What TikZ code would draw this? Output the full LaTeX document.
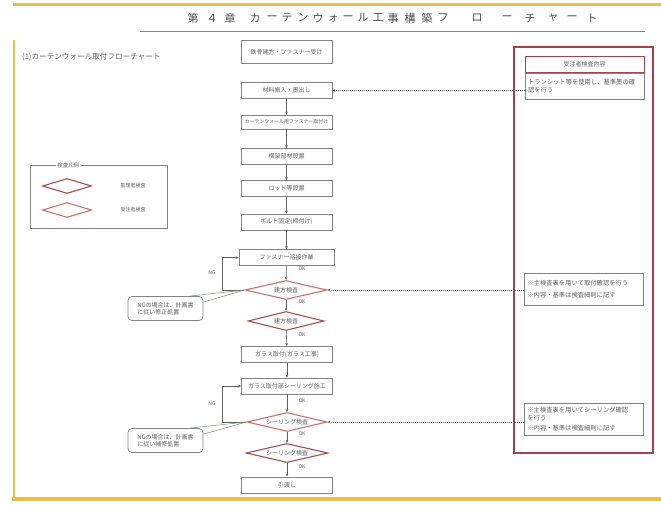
\documentclass[tikz,border=0pt]{standalone}
\usepackage{fontspec}
\setmainfont{Noto Sans CJK JP}
\usetikzlibrary{positioning,arrows.meta,shapes.geometric}
\XeTeXlinebreaklocale "ja"
\XeTeXlinebreakskip=0pt plus 1pt
\definecolor{framered}{RGB}{165,65,75}
\definecolor{kanrired}{RGB}{165,80,75}
\definecolor{jutured}{RGB}{200,115,105}
\definecolor{gold}{RGB}{232,192,70}
\definecolor{ink}{RGB}{95,95,95}
\definecolor{rulegray}{RGB}{130,130,130}
\tikzset{
  flow/.style={draw=rulegray,line width=0.8pt,minimum width=91pt,minimum height=16pt,inner sep=0pt,text=ink,font=\fontsize{6}{7}\selectfont},
  chk/.style={diamond,draw=#1,line width=1.1pt,fill=white,aspect=4,minimum width=82pt,minimum height=19pt,inner sep=0pt,text=ink,font=\fontsize{6}{7}\selectfont},
  flowarr/.style={draw=ink,line width=0.6pt,-{Stealth[length=3pt,width=2.6pt]}},
  ptrarr/.style={draw=ink,line width=0.6pt,dash pattern=on 1pt off 1pt,-{Stealth[length=3pt,width=2.6pt]}},
  oklab/.style={text=ink,font=\fontsize{5}{6}\selectfont,inner sep=1pt},
  ngnote/.style={draw=rulegray,line width=0.7pt,rounded corners=4pt,minimum width=75pt,minimum height=24pt,inner sep=2pt,align=left,text=ink,font=\fontsize{6}{7.5}\selectfont},
  ptr/.style={draw=rulegray!90!green,line width=0.5pt},
  sidebox/.style={draw=rulegray,line width=0.8pt,minimum width=119pt,inner sep=3pt,text width=113pt,align=left,text=ink,font=\fontsize{6.3}{8}\selectfont},
  legtxt/.style={text=ink,font=\fontsize{5}{6}\selectfont}
}
\begin{document}
\begin{tikzpicture}[x=1pt,y=-1pt]
\useasboundingbox (0,0) rectangle (661,507);
\fill[white] (0,0) rectangle (661,507);
% page border and heading
\draw[gold,line width=3pt] (13,4) -- (661,4);
\draw[gold,line width=2pt] (14,40) -- (14,499);
\draw[gold,line width=4pt] (12,499) -- (661,499);
\foreach \px/\ch in {193/第,212/４,230/章,255/カ,272/ー,287/テ,303/ン,318/ウ,333/ォ,348/ー,363/ル,378/工,393/事,410/構,427/築,443/フ,477/ロ,507/ー,530/チ,553/ャ,572/ー,592/ト}
  \node[text=ink!80!black,font=\fontsize{11}{12}\selectfont,inner sep=0pt] at (\px,18) {\ch};
\draw[rulegray,line width=0.6pt] (140,31) -- (645,31);
\node[anchor=west,text=ink,font=\fontsize{7.6}{9}\selectfont,inner sep=0pt] (sub) at (22,57) {(1)カーテンウォール取付フローチャート};

% flow boxes
\node[flow,minimum height=23pt] (b1) at (286.5,52) {鉄骨建方・ファスナー受け};
\node[flow] (b2) at (286.5,90.5) {材料搬入・墨出し};
\node[flow,minimum height=14pt,font=\fontsize{4.9}{6}\selectfont] (b3) at (286.5,122) {カーテンウォール用ファスナー取付け};
\node[flow] (b4) at (286.5,156.5) {横架部材設置};
\node[flow] (b5) at (286.5,188.5) {ロッド等設置};
\node[flow] (b6) at (286.5,222) {ボルト固定(締付け)};
\node[flow,minimum width=95pt] (b7) at (286.5,257.5) {ファスナー溶接作業};
\node[chk=jutured] (d1) at (286,290) {建方検査};
\node[chk=kanrired,minimum width=76pt] (d2) at (286,321) {建方検査};
\node[flow] (b8) at (287,354.5) {ガラス取付(ガラス工事)};
\node[flow] (b9) at (287,386) {ガラス取付部シーリング施工};
\node[chk=jutured,minimum width=80pt] (d3) at (287,422) {シーリング検査};
\node[chk=kanrired] (d4) at (287,453) {シーリング検査};
\node[flow] (b10) at (287,485) {引渡し};

\draw[flowarr] (b2) -- (b3);
\draw[flowarr] (b3) -- (b4);
\draw[flowarr] (b4) -- (b5);
\draw[flowarr] (b5) -- (b6);
\draw[flowarr] (b6) -- (b7);
\draw[flowarr] (b7) -- (d1);
\draw[flowarr] (d1) -- (d2);
\draw[flowarr] (d2) -- (b8);
\draw[flowarr] (b8) -- (b9);
\draw[flowarr] (b9) -- (d3);
\draw[flowarr] (d3) -- (d4);
\draw[flowarr] (d4) -- (b10);

\node[oklab] (ok1) at (302,269) {OK};
\node[oklab] (ok2) at (302,302) {OK};
\node[oklab] (ok3) at (302,335) {OK};
\node[oklab] (ok4) at (302,401) {OK};
\node[oklab] (ok5) at (302,434) {OK};
\node[oklab] (ok6) at (302,467) {OK};

% NG loops
\draw[flowarr] (d1.west) -- ++(-22,0) |- (b7.west);
\draw[flowarr] (d3.west) -- ++(-24,0) |- (b9.west);
\node[oklab] (ng1) at (212,273) {NG};
\node[oklab] (ng2) at (212,404) {NG};

% NG notes
\node[ngnote] (note1) at (165.5,308.5) {NGの場合は、計画書\\に従い修正処置};
\node[ngnote] (note2) at (165.5,440.5) {NGの場合は、計画書\\に従い補修処置};
\draw[ptr] ([xshift=-14pt]note1.north east) -- (d1.west) -- ([yshift=-6pt]note1.north east);
\draw[ptr] ([xshift=-14pt]note2.north east) -- (d3.west) -- ([yshift=-6pt]note2.north east);

% legend
\draw[rulegray,line width=0.7pt] (30,165) rectangle (167,228);
\node[fill=white,text=ink,font=\fontsize{5.5}{6}\selectfont,inner sep=1.5pt] (legt) at (68,165) {検査凡例};
\node[chk=kanrired,minimum width=49pt,minimum height=15pt] (lg1) at (67,186) {};
\node[chk=jutured,minimum width=49pt,minimum height=15pt] (lg2) at (67,210) {};
\node[legtxt,right=25pt of lg1] (lgt1) {監理者検査};
\node[legtxt,right=25pt of lg2] (lgt2) {受注者検査};

% contractor inspection panel
\draw[framered,line width=1.3pt] (514,47) rectangle (653,453);
\node[draw=framered,line width=1pt,minimum width=119pt,minimum height=16pt,inner sep=0pt,text=ink,font=\fontsize{6}{7}\selectfont] (hd) at (584.5,64) {受注者検査内容};
\node[sidebox,anchor=north,minimum height=26pt] (s1) at (hd.south) {トランシット等を使用し、基準墨の確\\認を行う};
\node[sidebox,anchor=north west,minimum height=32pt] (s2) at (524,273) {※主検査表を用いて取付確認を行う\\[4pt]※内容・基準は検査細則に記す};
\node[sidebox,anchor=north west,minimum height=32pt] (s3) at (524,403) {※主検査表を用いてシーリング確認\\を行う\\[2pt]※内容・基準は検査細則に記す};

\draw[ptrarr] (s1.west |- b2.east) -- (b2.east);
\draw[ptrarr] (s2.west |- d1.east) -- (d1.east);
\draw[ptrarr] (s3.west |- d3.east) -- (d3.east);
\end{tikzpicture}
\end{document}
